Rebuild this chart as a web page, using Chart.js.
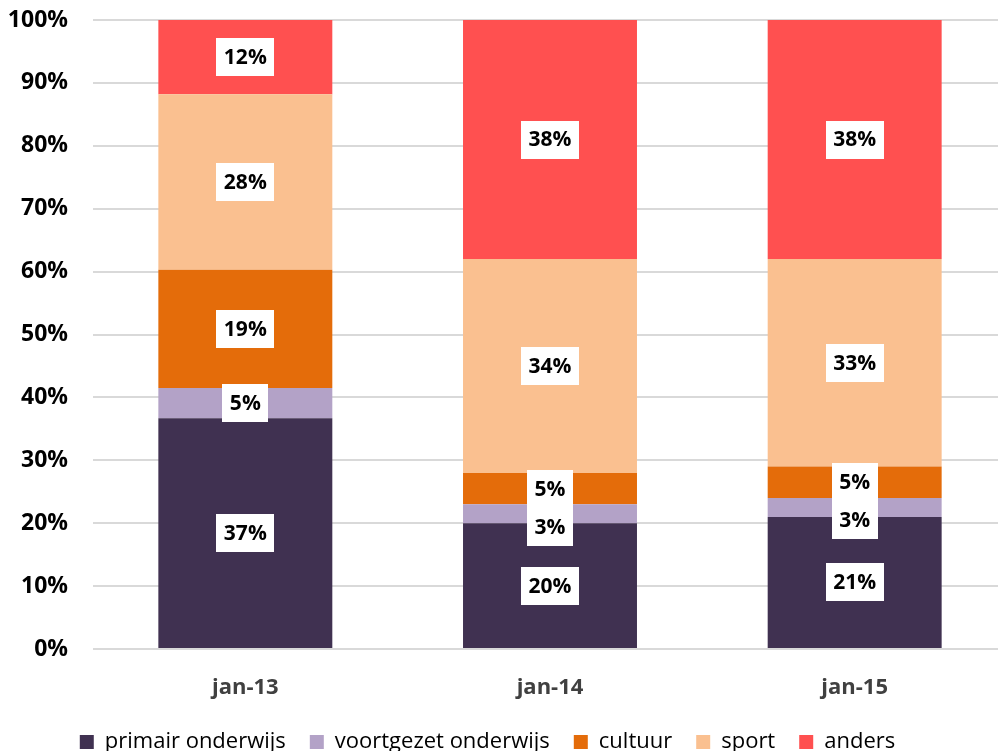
<!DOCTYPE html>
<html><head><meta charset="utf-8">
<script src="https://cdn.jsdelivr.net/npm/chart.js@4"></script>
<style>html,body{margin:0;padding:0;overflow:hidden;background:#fff;width:998px;height:751px}canvas{display:block}</style>
</head><body>
<canvas id="c" width="1007" height="763"></canvas>
<script>
const categories = ['jan-13', 'jan-14', 'jan-15'];
const seriesNames = ['primair onderwijs', 'voortgezet onderwijs', 'cultuur', 'sport', 'anders'];
const primairOnderwijs = [36.7, 20, 21];
const voortgezetOnderwijs = [4.8, 3, 3];
const cultuur = [18.8, 5, 5];
const sport = [27.9, 34, 33];
const anders = [11.8, 38, 38];
const colors = ['#403151', '#B3A2C7', '#E46C0A', '#FAC090', '#FF5050'];

const FONT = '"Open Sans", "Liberation Sans", sans-serif';

const labelPlugin = {
  id: 'boxLabels',
  afterDatasetsDraw(chart) {
    const ctx = chart.ctx;
    ctx.save();
    ctx.font = 'bold 21px ' + FONT;
    ctx.textAlign = 'center';
    ctx.textBaseline = 'middle';
    const n = chart.data.labels.length;
    for (let i = 0; i < n; i++) {
      let prevBottom = -Infinity;
      for (let d = chart.data.datasets.length - 1; d >= 0; d--) {
        const bar = chart.getDatasetMeta(d).data[i];
        const v = chart.data.datasets[d].data[i];
        const text = Math.round(v) + '%';
        const w = ctx.measureText(text).width + 15;
        const h = 38;
        let top = (bar.y + bar.base) / 2 - h / 2;
        if (top < prevBottom) top = prevBottom;
        ctx.fillStyle = '#ffffff';
        ctx.fillRect(Math.round(bar.x - w / 2), Math.round(top), Math.round(w), h);
        ctx.fillStyle = '#000000';
        ctx.fillText(text, bar.x, top + h / 2 + 1);
        prevBottom = top + h;
      }
    }
    ctx.restore();
  }
};

const legendShift = {
  id: 'legendShift',
  afterLayout(chart) {
    chart.legend.left -= 16;
    chart.legend.right -= 16;
  }
};

const seriesData = [primairOnderwijs, voortgezetOnderwijs, cultuur, sport, anders];

new Chart(document.getElementById('c'), {
  type: 'bar',
  data: {
    labels: categories,
    datasets: seriesNames.map((name, k) => ({
      label: name,
      data: seriesData[k],
      backgroundColor: colors[k],
      borderWidth: 0,
      barPercentage: 0.571,
      categoryPercentage: 1
    }))
  },
  options: {
    responsive: false,
    animation: false,
    layout: { padding: { top: 20, left: 0, right: 0, bottom: 0 } },
    plugins: {
      legend: {
        position: 'bottom',
        labels: {
          boxWidth: 14, boxHeight: 14, padding: 24,
          color: '#000', font: { family: FONT, size: 22 }
        }
      },
      tooltip: { enabled: false }
    },
    scales: {
      x: {
        stacked: true,
        grid: { display: false, drawTicks: false },
        border: { display: false },
        ticks: { color: '#404040', font: { family: FONT, size: 22, weight: 'bold' }, padding: 26 },
        afterFit(s) { s.height = 58; }
      },
      y: {
        stacked: true,
        min: 0, max: 100,
        grid: { color: '#d9d9d9', lineWidth: 2, drawTicks: false },
        border: { display: false },
        ticks: { stepSize: 10, color: '#000', padding: 25, font: { family: FONT, size: 23, weight: 'bold' }, callback: v => v + '%' },
        afterFit(s) { s.width = 93; s.paddingTop = 0; s.paddingBottom = 0; }
      }
    }
  },
  plugins: [labelPlugin, legendShift]
});
</script>
</body></html>
